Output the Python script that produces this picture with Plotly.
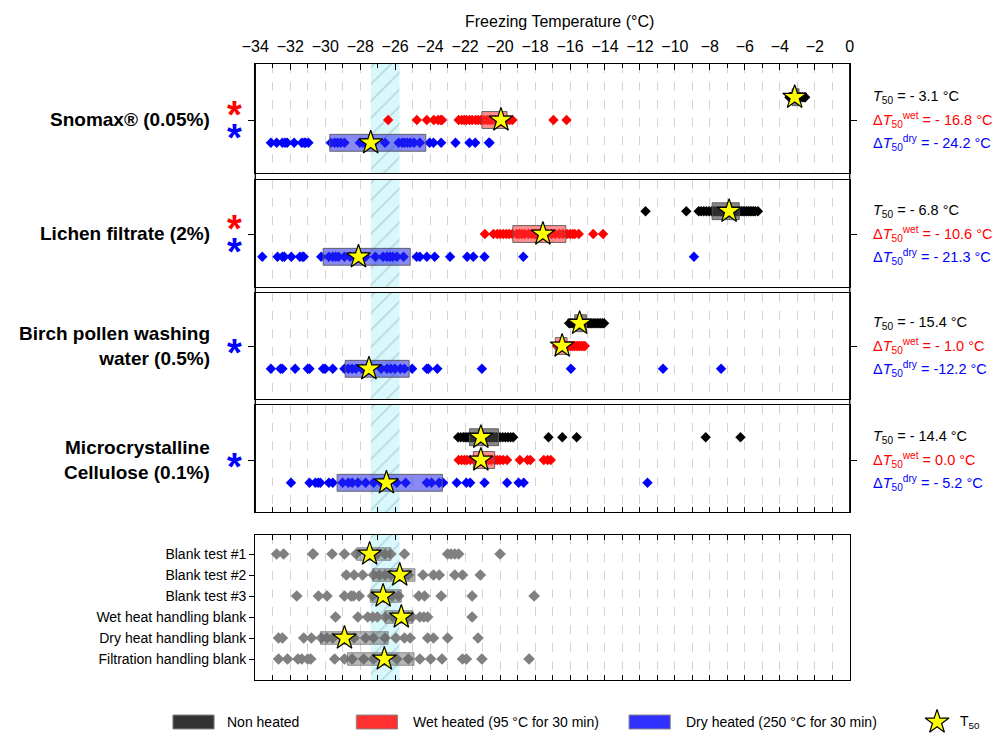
import plotly.graph_objects as go

# ---------------- data ----------------
sample_labels = ["Snomax® (0.05%)", "Lichen filtrate (2%)",
                 "Birch pollen washing<br>water (0.5%)", "Microcrystalline<br>Cellulose (0.1%)"]

snomax_non = [-3.45, -3.4, -3.35, -3.3, -3.25, -3.2, -3.15, -3.1, -3.05, -3.0, -2.95, -2.9,
              -2.85, -2.8, -2.7, -2.6, -2.55]
snomax_wet = [-26.4, -24.76, -24.19, -23.79, -23.55, -23.4, -23.32, -22.37, -22.19, -22.05, -21.93,
              -21.75, -21.6, -21.4, -21.26, -21.1, -20.93, -20.75, -20.6, -20.45, -20.27, -20.1,
              -19.94, -19.8, -19.6, -19.45, -19.3, -16.95, -16.2]
snomax_dry = [-33.11, -32.78, -32.45, -32.3, -32.18, -31.78, -31.34, -31.2, -31.12, -30.96, -29.68,
              -29.46, -29.3, -29.12, -28.9, -28.02, -27.85, -27.69, -27.24, -26.58, -25.8, -25.6,
              -25.47, -25.3, -25.14, -24.92, -24.59, -24.03, -23.81, -23.37, -22.55, -21.75, -21.42,
              -20.64, -20.6]
snomax_boxes = [[-3.3, -2.9], [-21.04, -19.6], [-29.74, -24.25]]
snomax_stars = [-3.15, -19.95, -27.4]

lichen_non = [-11.68, -9.35, -8.64, -8.5, -8.35, -8.2, -8.05, -7.9, -7.8, -7.7, -7.6, -7.5, -7.4,
              -7.3, -7.2, -7.1, -7.0, -6.9, -6.8, -6.7, -6.6, -6.5, -6.4, -6.3, -6.2, -6.1, -6.0,
              -5.9, -5.8, -5.7, -5.6, -5.5, -5.4, -5.25]
lichen_wet = [-20.87, -20.38, -20.16, -20.0, -19.82, -19.65, -19.49, -19.3, -19.05, -18.9, -18.75,
              -18.6, -18.38, -18.2, -18.05, -17.94, -17.75, -17.5, -17.3, -17.06, -16.85, -16.61,
              -16.4, -16.17, -16.0, -15.85, -15.73, -15.5, -14.67, -14.11]
lichen_dry = [-33.6, -32.73, -32.45, -32.34, -31.94, -31.45, -31.3, -31.23, -30.23, -29.79, -29.57,
              -29.4, -29.24, -28.9, -28.57, -28.3, -27.69, -27.13, -26.69, -26.47, -26.3, -26.14,
              -25.9, -25.52, -24.77, -24.59, -24.19, -23.74, -22.86, -21.88, -21.53, -20.89,
              -18.67, -8.91]
lichen_boxes = [[-7.87, -6.32], [-19.27, -16.24], [-30.12, -25.14]]
lichen_stars = [-6.9, -17.55, -28.1]

birch_non = [-16.05, -15.95, -15.85, -15.75, -15.65, -15.55, -15.45, -15.35, -15.25, -15.15,
             -15.05, -14.95, -14.85, -14.75, -14.65, -14.55, -14.45, -14.35, -14.25, -14.15, -14.05]
birch_wet = [-16.75, -16.65, -16.55, -16.45, -16.35, -16.25, -16.15, -16.05, -15.95, -15.85,
             -15.75, -15.65, -15.55, -15.45, -15.35, -15.25, -15.15]
birch_dry = [-33.11, -32.56, -32.45, -31.72, -31.0, -30.9, -30.12, -30.0, -29.57, -28.9, -28.68,
             -28.46, -28.24, -27.9, -27.6, -26.8, -26.47, -26.25, -26.02, -25.7, -25.47, -25.03,
             -24.19, -24.1, -23.59, -21.04, -15.95, -10.68, -7.36]
birch_boxes = [[-15.73, -15.06], [-16.84, -16.17], [-28.86, -25.2]]
birch_stars = [-15.45, -16.45, -27.5]

mcc_non = [-22.4, -22.25, -22.1, -22.0, -21.9, -21.8, -21.7, -21.6, -21.5, -21.4, -21.3, -21.2,
           -21.1, -21.0, -20.9, -20.8, -20.7, -20.6, -20.5, -20.4, -20.3, -20.2, -20.1, -20.0,
           -19.85, -19.7, -19.55, -19.4, -19.25, -17.23, -16.44, -15.62, -8.24, -6.25]
mcc_wet = [-22.37, -22.2, -22.04, -21.9, -21.71, -21.49, -21.3, -21.2, -21.04, -20.82, -20.65,
           -20.49, -20.3, -20.16, -20.0, -19.82, -19.6, -18.87, -18.43, -18.27, -17.5, -17.28, -17.1]
mcc_dry = [-31.96, -30.9, -30.56, -30.4, -30.28, -29.79, -29.57, -29.01, -28.68, -28.46, -28.13,
           -27.69, -27.24, -26.8, -26.5, -25.91, -25.4, -24.19, -23.92, -23.48, -23.26, -22.48,
           -21.93, -21.71, -20.89, -19.6, -18.94, -18.65, -11.57]
mcc_boxes = [[-21.75, -20.09], [-21.53, -20.31], [-29.32, -23.3]]
mcc_stars = [-21.1, -21.1, -26.5]

t50_text = ["- 3.1", "- 6.8", "- 15.4", "- 14.4"]
dwet_text = ["- 16.8", "- 10.6", "- 1.0", "0.0"]
ddry_text = ["- 24.2", "- 21.3", "-12.2", "- 5.2"]
sig_wet = [True, True, False, False]
sig_dry = [True, True, True, True]

homog_band = [-27.4, -25.75]

blank_labels = ["Blank test #1", "Blank test #2", "Blank test #3",
                "Wet heat handling blank", "Dry heat handling blank", "Filtration handling blank"]
blank1 = [-32.78, -32.38, -30.72, -30.68, -29.61, -28.9, -28.24, -27.46, -27.02, -26.58, -26.25,
          -25.47, -23.0, -22.81, -22.59, -22.37, -20.0]
blank2 = [-28.79, -28.35, -27.86, -27.24, -26.91, -26.58, -26.25, -25.74, -25.25, -24.41, -23.81,
          -23.48, -22.59, -22.15, -21.13]
blank3 = [-31.63, -30.39, -29.9, -28.9, -28.53, -28.39, -28.06, -27.29, -26.69, -26.18, -25.8,
          -24.65, -24.32, -23.37, -21.6, -18.05]
blank_wet = [-29.41, -28.13, -27.57, -27.29, -27.02, -26.58, -26.14, -25.65, -25.25, -25.03,
             -24.59, -24.36, -24.14, -21.6]
blank_dry = [-32.67, -32.45, -31.23, -30.79, -30.23, -29.9, -29.57, -28.9, -28.35, -27.69, -27.24,
             -26.58, -25.96, -25.47, -25.14, -24.14, -23.81, -23.0, -21.26]
blank_filt = [-32.67, -32.16, -31.56, -31.34, -31.0, -30.83, -29.46, -28.9, -28.46, -27.8, -27.24,
              -26.62, -25.91, -25.25, -24.59, -23.97, -23.32, -22.15, -21.93, -21.04, -18.34]
blank_boxes = [[-28.2, -26.25], [-27.29, -24.87], [-27.42, -25.65], [-26.58, -24.98],
               [-30.28, -26.4], [-28.73, -24.92]]
blank_stars = [-27.46, -25.74, -26.69, -25.65, -28.9, -26.62]

legend_labels = ["Non heated", "Wet heated (95 °C for 30 min)", "Dry heated (250 °C for 30 min)"]

# ---------------- styling / layout helpers ----------------
W, H = 996, 734
FONT = "Arial, Liberation Sans, sans-serif"
pt_colors = ["#000000", "#ff0000", "#0000ff"]
box_fill = ["rgba(70,70,70,0.65)", "rgba(255,50,50,0.55)", "rgba(40,40,235,0.55)"]
row_y = [1, 0, -1]


def pxx(x):
    return x / W


def pxy(y):
    return 1 - y / H


XD = [pxx(246), pxx(852)]
panel_px = [(64, 173, 120), (180, 287, 234), (293, 399, 346), (405, 512, 460)]
UNIT = 22.8
BOXH = 0.37

samples_pts = [[snomax_non, snomax_wet, snomax_dry], [lichen_non, lichen_wet, lichen_dry],
               [birch_non, birch_wet, birch_dry], [mcc_non, mcc_wet, mcc_dry]]
samples_boxes = [snomax_boxes, lichen_boxes, birch_boxes, mcc_boxes]
samples_stars = [snomax_stars, lichen_stars, birch_stars, mcc_stars]
blank_pts = [blank1, blank2, blank3, blank_wet, blank_dry, blank_filt]

fig = go.Figure()
band_pattern = dict(shape="/", bgcolor="#d8f8fb", fgcolor="#98bcbf", size=12, solidity=0.14)
grid = dict(showgrid=True, gridcolor="#d4d4d4", griddash="dash", gridwidth=1)
star_marker = dict(symbol="star", size=18, color="#ffff00", line=dict(color="black", width=1.2))

layout_axes = {}
for i, (top, bot, mid) in enumerate(panel_px):
    n = i + 1
    xs = "x" if n == 1 else f"x{n}"
    ys = "y" if n == 1 else f"y{n}"
    ylo, yhi = -(bot - mid) / UNIT, (mid - top) / UNIT
    # hatched band
    fig.add_trace(go.Scatter(x=[homog_band[0], homog_band[1], homog_band[1], homog_band[0], homog_band[0]],
                             y=[ylo, ylo, yhi, yhi, ylo], fill="toself", fillpattern=band_pattern,
                             fillcolor="#d8f8fb", mode="lines", line=dict(width=0),
                             xaxis=xs, yaxis=ys, hoverinfo="skip", showlegend=False))
    # points
    for k in range(3):
        vals = samples_pts[i][k]
        fig.add_trace(go.Scatter(x=vals, y=[row_y[k]] * len(vals), mode="markers",
                                 marker=dict(symbol="diamond", size=8, color=pt_colors[k], line=dict(width=0)),
                                 xaxis=xs, yaxis=ys, showlegend=False))
    # boxes
    for k in range(3):
        lo, hi = samples_boxes[i][k]
        r = row_y[k]
        fig.add_trace(go.Scatter(x=[lo, hi, hi, lo, lo], y=[r - BOXH, r - BOXH, r + BOXH, r + BOXH, r - BOXH],
                                 fill="toself", fillcolor=box_fill[k], mode="lines",
                                 line=dict(color="rgba(90,90,90,0.9)", width=1),
                                 xaxis=xs, yaxis=ys, showlegend=False))
    # stars
    fig.add_trace(go.Scatter(x=samples_stars[i], y=row_y, mode="markers", marker=star_marker,
                             xaxis=xs, yaxis=ys, showlegend=False))

    xa = dict(domain=XD, range=[-34, 0], anchor=ys, showline=True, linecolor="black", linewidth=1.3,
              mirror=True, zeroline=False, tickcolor="black", tickfont=dict(family=FONT, size=16, color="black"),
              **grid)
    if n == 1:
        xa.update(side="top", ticks="inside", ticklen=6, dtick=2, tick0=0, showticklabels=True,
                  ticklabelstandoff=4,
                  minor=dict(dtick=1, ticks="inside", ticklen=4, tickcolor="black", **grid))
    elif n == 4:
        xa.update(ticks="inside", ticklen=5, dtick=1, tick0=0, showticklabels=False)
    else:
        xa.update(ticks="", dtick=1, tick0=0, showticklabels=False)
    ya = dict(domain=[pxy(bot), pxy(top)], range=[ylo, yhi], anchor=xs, showline=True, linecolor="black",
              linewidth=1.3, mirror="ticks", ticks="outside", ticklen=6, tickcolor="black", tickvals=[0],
              showticklabels=False, showgrid=False, zeroline=False)
    layout_axes["xaxis" if n == 1 else f"xaxis{n}"] = xa
    layout_axes["yaxis" if n == 1 else f"yaxis{n}"] = ya

# blank panel (axis 5)
b_top, b_bot, b_first, b_step = 535, 680, 554, 21
by_range = [(b_bot - b_first) / b_step, -(b_first - b_top) / b_step]
fig.add_trace(go.Scatter(x=[homog_band[0], homog_band[1], homog_band[1], homog_band[0], homog_band[0]],
                         y=[by_range[0], by_range[0], by_range[1], by_range[1], by_range[0]],
                         fill="toself", fillpattern=band_pattern, fillcolor="#d8f8fb", mode="lines",
                         line=dict(width=0), xaxis="x5", yaxis="y5", hoverinfo="skip", showlegend=False))
for j, vals in enumerate(blank_pts):
    fig.add_trace(go.Scatter(x=vals, y=[j] * len(vals), mode="markers",
                             marker=dict(symbol="diamond", size=9, color="#808080", line=dict(width=0)),
                             xaxis="x5", yaxis="y5", showlegend=False))
for j, (lo, hi) in enumerate(blank_boxes):
    fig.add_trace(go.Scatter(x=[lo, hi, hi, lo, lo], y=[j - 0.3, j - 0.3, j + 0.3, j + 0.3, j - 0.3],
                             fill="toself", fillcolor="rgba(95,95,95,0.45)", mode="lines",
                             line=dict(color="rgba(110,110,110,0.7)", width=1),
                             xaxis="x5", yaxis="y5", showlegend=False))
fig.add_trace(go.Scatter(x=blank_stars, y=list(range(len(blank_stars))), mode="markers", marker=star_marker,
                         xaxis="x5", yaxis="y5", showlegend=False))
layout_axes["xaxis5"] = dict(domain=XD, range=[-34, 0], anchor="y5", showline=True, linecolor="black",
                             linewidth=1.3, mirror="ticks", zeroline=False, ticks="inside", ticklen=5,
                             tickcolor="black", dtick=1, tick0=0, showticklabels=False, **grid)
layout_axes["yaxis5"] = dict(domain=[pxy(b_bot), pxy(b_top)], range=by_range, anchor="x5", showline=True,
                             linecolor="black", linewidth=1.3, mirror=True, ticks="outside", ticklen=5,
                             tickcolor="black", tickvals=list(range(len(blank_labels))), ticktext=blank_labels,
                             tickfont=dict(family=FONT, size=14, color="black"), showgrid=False, zeroline=False)

# overlay pixel axis for the legend star
fig.add_trace(go.Scatter(x=[941], y=[722], mode="markers", marker=star_marker,
                         xaxis="x6", yaxis="y6", showlegend=False, hoverinfo="skip"))
layout_axes["xaxis6"] = dict(domain=[0, 1], range=[0, W], visible=False, anchor="y6", fixedrange=True)
layout_axes["yaxis6"] = dict(domain=[0, 1], range=[H, 0], visible=False, anchor="x6", fixedrange=True)

annotations = []
# title
annotations.append(dict(x=pxx(556), y=pxy(21), xref="paper", yref="paper", text="Freezing Temperature (°C)",
                        showarrow=False, font=dict(family=FONT, size=16, color="black"),
                        xanchor="center", yanchor="middle"))
for i, (top, bot, mid) in enumerate(panel_px):
    annotations.append(dict(x=pxx(202), y=pxy(mid), xref="paper", yref="paper",
                            text="<b>" + sample_labels[i] + "</b>", showarrow=False, align="right",
                            font=dict(family=FONT, size=19, color="black"), xanchor="right", yanchor="middle"))
    if sig_wet[i]:
        annotations.append(dict(x=pxx(225), y=pxy(mid - 11 + 6), xref="paper", yref="paper", text="<b>*</b>",
                                showarrow=False, font=dict(family=FONT, size=38, color="#ff0000"),
                                xanchor="center", yanchor="middle"))
    if sig_dry[i]:
        dy = 12 if sig_wet[i] else 1
        annotations.append(dict(x=pxx(225), y=pxy(mid + dy + 6), xref="paper", yref="paper", text="<b>*</b>",
                                showarrow=False, font=dict(family=FONT, size=38, color="#0000ff"),
                                xanchor="center", yanchor="middle"))
    lines = [("<i>T</i><sub>50</sub> = " + t50_text[i] + " °C", "black"),
             ("Δ<i>T</i><sub>50</sub><sup>wet</sup> = " + dwet_text[i] + " °C", "#ff0000"),
             ("Δ<i>T</i><sub>50</sub><sup>dry</sup> = " + ddry_text[i] + " °C", "#0000ff")]
    for k, (txt, col) in enumerate(lines):
        annotations.append(dict(x=pxx(874), y=pxy(mid - 23 * row_y[k]), xref="paper", yref="paper", text=txt,
                                showarrow=False, font=dict(family=FONT, size=14.5, color=col),
                                xanchor="left", yanchor="middle"))

# legend
shapes = []
leg_rects = [(162, 204), (349, 391), (627, 669)]
leg_colors = ["#333333", "#ff3030", "#3030ff"]
leg_text_x = [215, 405, 683]
for (x0, x1), c, tx, lab in zip(leg_rects, leg_colors, leg_text_x, legend_labels):
    shapes.append(dict(type="rect", xref="paper", yref="paper", x0=pxx(x0), x1=pxx(x1), y0=pxy(729), y1=pxy(715),
                       fillcolor=c, line=dict(color="#888888", width=1)))
    annotations.append(dict(x=pxx(tx), y=pxy(722), xref="paper", yref="paper", text=lab, showarrow=False,
                            font=dict(family=FONT, size=14, color="black"), xanchor="left", yanchor="middle"))
annotations.append(dict(x=pxx(962), y=pxy(722), xref="paper", yref="paper", text="T<sub>50</sub>",
                        showarrow=False, font=dict(family=FONT, size=14, color="black"),
                        xanchor="left", yanchor="middle"))
# continuous outer frame of the broken top axis
for xx in (246, 852):
    shapes.append(dict(type="line", xref="paper", yref="paper", x0=pxx(xx), x1=pxx(xx), y0=pxy(512), y1=pxy(64),
                       line=dict(color="black", width=1.3)))

fig.update_layout(width=W, height=H, margin=dict(l=0, r=0, t=0, b=0), paper_bgcolor="white",
                  plot_bgcolor="rgba(0,0,0,0)", showlegend=False, annotations=annotations, shapes=shapes,
                  font=dict(family=FONT), **layout_axes)
fig.write_html("out.html")
